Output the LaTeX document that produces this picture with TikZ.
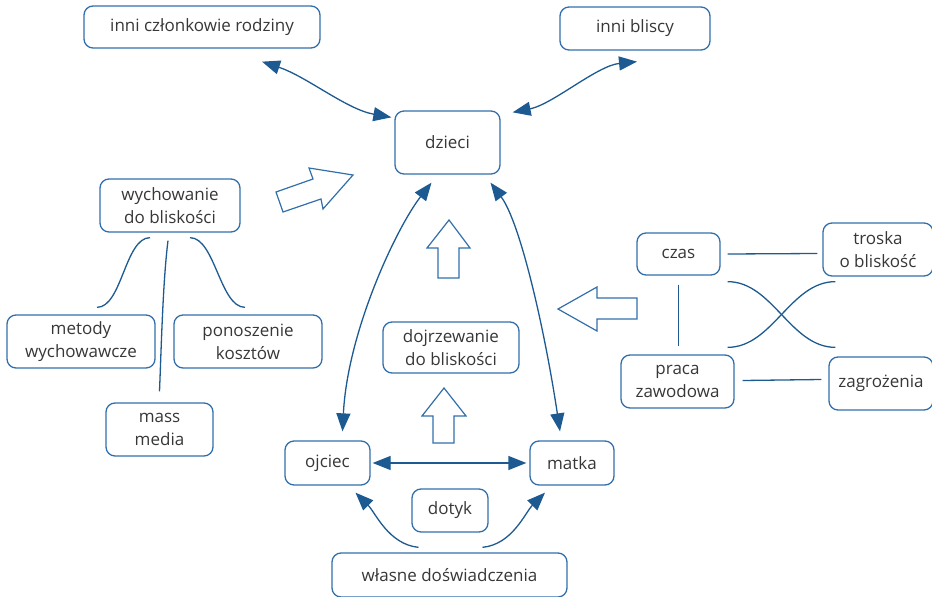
\documentclass[tikz,border=0pt]{standalone}
\usepackage{fontspec}
\setmainfont{Open Sans}
\usetikzlibrary{arrows.meta,calc}
\definecolor{boxblue}{RGB}{50,110,170}
\definecolor{arrblue}{RGB}{28,90,145}
\definecolor{txtgray}{RGB}{55,55,55}
\tikzset{
  pole/.style={draw=boxblue, line width=1.3pt, rounded corners=9pt, align=center, text=txtgray, inner sep=0pt, font=\fontsize{17}{23}\selectfont},
  wiez/.style={draw=arrblue, line width=1.3pt},
  strz/.style={wiez, -{Triangle[length=18pt,width=14pt]}},
  dwustrz/.style={wiez, {Triangle[length=18pt,width=14pt]}-{Triangle[length=18pt,width=14pt]}},
  blok/.style={draw=boxblue, line width=1.2pt, line join=miter},
}
\begin{document}
\begin{tikzpicture}[x=1pt,y=-1pt]
    \useasboundingbox (0,0) rectangle (932,597);
    % pola
    \node[pole, minimum width=236, minimum height=42] (rodz) at (202,27) {inni członkowie rodziny};
    \node[pole, minimum width=150, minimum height=43] (bliscy) at (635,28.5) {inni bliscy};
    \node[pole, minimum width=105, minimum height=63] (dzieci) at (447.5,142.5) {dzieci};
    \node[pole, minimum width=140, minimum height=53] (wych) at (170,205.5) {wychowanie\\do bliskości};
    \node[pole, minimum width=148, minimum height=53] (metody) at (81,341.5) {metody\\wychowawcze};
    \node[pole, minimum width=148, minimum height=53] (koszty) at (248,341.5) {ponoszenie\\kosztów};
    \node[pole, minimum width=107, minimum height=53] (media) at (159.5,429.5) {mass\\media};
    \node[pole, minimum width=136, minimum height=51] (dojrz) at (451,347.5) {dojrzewanie\\do bliskości};
    \node[pole, minimum width=83, minimum height=42] (czas) at (678.5,254) {czas};
    \node[pole, minimum width=110, minimum height=53] (troska) at (878,249.5) {troska\\o bliskość};
    \node[pole, minimum width=113, minimum height=53] (praca) at (677.5,381.5) {praca\\zawodowa};
    \node[pole, minimum width=104, minimum height=53] (zagr) at (881,383.5) {zagrożenia};
    \node[pole, minimum width=85, minimum height=44] (ojciec) at (327.5,463) {ojciec};
    \node[pole, minimum width=84, minimum height=44] (matka) at (572,463) {matka};
    \node[pole, minimum width=76, minimum height=43] (dotyk) at (450,510.5) {dotyk};
    \node[pole, minimum width=235, minimum height=44] (wlasne) at (449.5,575) {własne doświadczenia};

    % strzalki
    \draw[dwustrz] ($(rodz.south)+(60,13)$) .. controls +(45,15) and +(-45,-8) .. ($(dzieci.north west)+(-3,7)$);
    \draw[dwustrz] ($(dzieci.north east)+(12,2)$) .. controls +(40,-8) and +(-40,4) .. ($(bliscy.south)+(2,11)$);
    \draw[dwustrz] ($(ojciec.north)+(15,-9)$) .. controls +(5,-100) and +(-35,45) .. ($(dzieci.south)+(-16,8)$);
    \draw[dwustrz] ($(dzieci.south)+(43,8)$) .. controls +(30,40) and +(-15,-100) .. ($(matka.north)+(-12,-9)$);
    \draw[dwustrz] ($(ojciec.east)+(2,0)$) -- ($(matka.west)+(-3,0)$);
    \draw[strz] ($(wlasne.north)+(-31,-5)$) .. controls +(-30,-3) and +(20,20) .. ($(ojciec.south)+(28,7)$);
    \draw[strz] ($(wlasne.north)+(33,-5)$) .. controls +(30,-3) and +(-20,20) .. ($(matka.south)+(-27,7)$);

    % linie
    \draw[wiez] ($(wych.south)+(-20,5)$) .. controls +(-25,0) and +(25,0) .. ($(metody.north)+(16,-7)$);
    \draw[wiez] ($(wych.south)+(20,5)$) .. controls +(25,0) and +(-25,0) .. ($(koszty.north)+(-3,-7)$);
    \draw[wiez] ($(wych.south)+(-2,8)$) .. controls +(-5,40) and +(2,-50) .. ($(media.north)+(0,-11)$);
    \draw[wiez] ($(czas.east)+(7,0)$) -- ($(troska.west)+(-5,4)$);
    \draw[wiez] ($(czas.south)+(0,9)$) -- ($(praca.north)+(1,-8)$);
    \draw[wiez] ($(praca.east)+(8,-1)$) -- ($(zagr.west)+(-7,-4)$);
    \draw[wiez] ($(czas.south east)+(7,6)$) .. controls +(45,0) and +(-45,0) .. ($(zagr.north west)+(7,-9)$);
    \draw[wiez] ($(praca.north east)+(-7,-7)$) .. controls +(45,0) and +(-45,0) .. ($(troska.south west)+(13,5)$);

    % puste strzalki
    \draw[blok] (449,220) -- (470,248) -- (459,248) -- (459,278) -- (438,278) -- (438,248) -- (427,248) -- cycle;
    \draw[blok] (444,388) -- (466,416) -- (454,416) -- (454,443) -- (433,443) -- (433,416) -- (422,416) -- cycle;
    \draw[blok] (558,309) -- (597,287) -- (597,298) -- (637,298) -- (637,319) -- (597,319) -- (597,331) -- cycle;
    \draw[blok] (276,192) -- (313,179) -- (309,168) -- (353,175) -- (323,209) -- (321,199) -- (283,212) -- cycle;
\end{tikzpicture}
\end{document}
